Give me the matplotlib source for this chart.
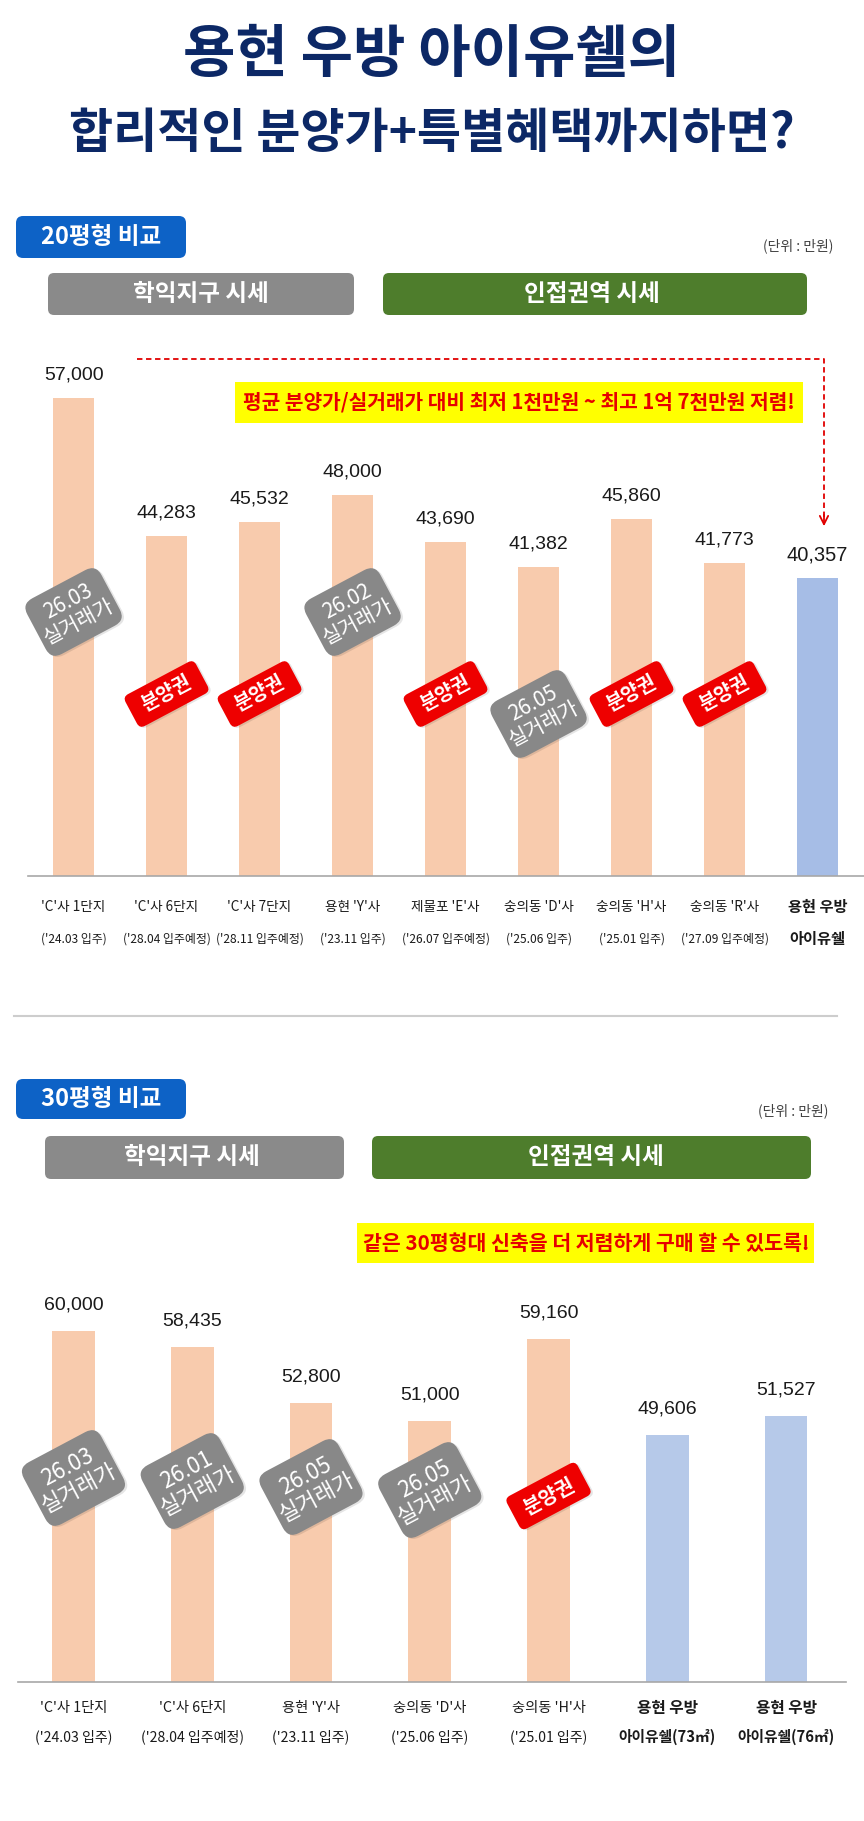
import matplotlib
matplotlib.use('Agg')
import matplotlib.pyplot as plt
from matplotlib.patches import FancyBboxPatch
from matplotlib.transforms import Affine2D

plt.rcParams['font.family'] = ['Noto Sans CJK KR', 'DejaVu Sans']

W, H = 864, 1821
NUM_FONT = ['Liberation Sans', 'DejaVu Sans']

# ---------------- data ----------------
title_lines = ["용현 우방 아이유쉘의", "합리적인 분양가+특별혜택까지하면?"]

c20_header = "20평형 비교"
c20_names = ["'C'사 1단지", "'C'사 6단지", "'C'사 7단지", "용현 'Y'사", "제물포 'E'사",
             "숭의동 'D'사", "숭의동 'H'사", "숭의동 'R'사", "용현 우방"]
c20_sub = ["('24.03 입주)", "('28.04 입주예정)", "('28.11 입주예정)", "('23.11 입주)",
           "('26.07 입주예정)", "('25.06 입주)", "('25.01 입주)", "('27.09 입주예정)", "아이유쉘"]
c20_values = [57000, 44283, 45532, 48000, 43690, 41382, 45860, 41773, 40357]
c20_tags = ["26.03\n실거래가", "분양권", "분양권", "26.02\n실거래가", "분양권",
            "26.05\n실거래가", "분양권", "분양권", None]
c20_note = "평균 분양가/실거래가 대비 최저 1천만원 ~ 최고 1억 7천만원 저렴!"

c30_header = "30평형 비교"
c30_names = ["'C'사 1단지", "'C'사 6단지", "용현 'Y'사", "숭의동 'D'사", "숭의동 'H'사",
             "용현 우방", "용현 우방"]
c30_sub = ["('24.03 입주)", "('28.04 입주예정)", "('23.11 입주)", "('25.06 입주)",
           "('25.01 입주)", "아이유쉘(73㎡)", "아이유쉘(76㎡)"]
c30_values = [60000, 58435, 52800, 51000, 59160, 49606, 51527]
c30_tags = ["26.03\n실거래가", "26.01\n실거래가", "26.05\n실거래가", "26.05\n실거래가",
            "분양권", None, None]
c30_note = "같은 30평형대 신축을 더 저렴하게 구매 할 수 있도록!"

group_labels = ["학익지구 시세", "인접권역 시세"]
unit_label = "(단위 : 만원)"

# ---------------- styles ----------------
ORANGE = '#f8cbad'
BLUE1 = '#a6bde6'
BLUE2 = '#b6c9e9'
NAVY = '#0c2866'
GRAY_BADGE = '#888888'
RED_BADGE = '#ee0000'

fig = plt.figure(figsize=(W / 100, H / 100), dpi=100)
fig.patch.set_facecolor('white')


def px_axes(left, top, right, bottom):
    return fig.add_axes([left / W, (H - bottom) / H, (right - left) / W, (bottom - top) / H])


ax1 = px_axes(28, 340, 864, 876)
ax2 = px_axes(18, 1290, 846, 1682)
ovl = fig.add_axes([0, 0, 1, 1], zorder=5)
ovl.set_xlim(0, W)
ovl.set_ylim(0, H)
ovl.axis('off')


def Y(y):
    return H - y


def style_axes(ax):
    for s in ['top', 'right', 'left']:
        ax.spines[s].set_visible(False)
    ax.spines['bottom'].set_color('#a8a8a8')
    ax.spines['bottom'].set_linewidth(1.2)
    ax.set_xticks([])
    ax.set_yticks([])
    ax.patch.set_alpha(0)


# ---------------- chart 1 ----------------
x1 = list(range(len(c20_values)))
colors1 = [ORANGE] * (len(c20_values) - 1) + [BLUE1]
ax1.bar(x1, c20_values, width=0.45, color=colors1)
ax1.set_xlim(-0.49, 8.5)
ax1.set_ylim(12700, 62420)
style_axes(ax1)
for i, v in enumerate(c20_values):
    last = i == len(c20_values) - 1
    ax1.annotate(f"{v:,}", xy=(i, v), xytext=(0, 23), textcoords='offset pixels',
                 ha='center', va='center', fontsize=14.5 if last else 14, color='#1a1a1a',
                 family=NUM_FONT)
    ax1.annotate(c20_names[i], xy=(i, 0), xycoords=('data', 'axes fraction'),
                 xytext=(0, -31), textcoords='offset pixels', ha='center', va='center',
                 fontsize=11 if last else 9.8, fontweight='bold' if last else 'normal',
                 color='#1a1a1a')
    ax1.annotate(c20_sub[i], xy=(i, 0), xycoords=('data', 'axes fraction'),
                 xytext=(0, -63), textcoords='offset pixels', ha='center', va='center',
                 fontsize=11 if last else 8.6, fontweight='bold' if last else 'normal',
                 color='#1a1a1a')

# ---------------- chart 2 ----------------
x2 = list(range(len(c30_values)))
colors2 = [ORANGE] * 5 + [BLUE2] * 2
ax2.bar(x2, c30_values, width=0.36, color=colors2)
ax2.set_xlim(-0.467, 6.505)
ax2.set_ylim(24900, 64100)
style_axes(ax2)
for i, v in enumerate(c30_values):
    last = i >= 5
    ax2.annotate(f"{v:,}", xy=(i, v), xytext=(0, 26), textcoords='offset pixels',
                 ha='center', va='center', fontsize=14, color='#1a1a1a', family=NUM_FONT)
    ax2.annotate(c30_names[i], xy=(i, 0), xycoords=('data', 'axes fraction'),
                 xytext=(0, -26), textcoords='offset pixels', ha='center', va='center',
                 fontsize=11.3 if last else 10.3, fontweight='bold' if last else 'normal',
                 color='#1a1a1a')
    ax2.annotate(c30_sub[i], xy=(i, 0), xycoords=('data', 'axes fraction'),
                 xytext=(0, -55), textcoords='offset pixels', ha='center', va='center',
                 fontsize=10.6 if last else 10.1, fontweight='bold' if last else 'normal',
                 color='#1a1a1a')

# ---------------- decorations ----------------
def box(x0, y0, x1_, y1_, color, r=6):
    ovl.add_patch(FancyBboxPatch((x0, Y(y1_)), x1_ - x0, y1_ - y0,
                                 boxstyle=f"round,pad=0,rounding_size={r}",
                                 fc=color, ec='none'))


def badge(cx, cy, w, h, r, color, text, fs, angle=28):
    tr = Affine2D().rotate_deg_around(cx, cy, angle) + ovl.transData
    ovl.add_patch(FancyBboxPatch((cx - w / 2 + 1.5, cy - h / 2 - 2), w, h,
                                 boxstyle=f"round,pad=0,rounding_size={r}",
                                 fc='#000000', alpha=0.10, ec='none', transform=tr))
    ovl.add_patch(FancyBboxPatch((cx - w / 2, cy - h / 2), w, h,
                                 boxstyle=f"round,pad=0,rounding_size={r}",
                                 fc=color, ec='none', transform=tr))
    ovl.text(cx, cy, text, rotation=angle, rotation_mode='anchor', ha='center',
             va='center', color='white', fontsize=fs, linespacing=1.05,
             fontweight='bold' if '\n' not in text else 'normal')


def bar_px(ax, i):
    return ax.transData.transform((i, 0))[0]


# titles
ovl.text(W / 2, Y(55), title_lines[0], ha='center', va='center', fontsize=41,
         fontweight='bold', color=NAVY)
ovl.text(W / 2, Y(134), title_lines[1], ha='center', va='center', fontsize=34.5,
         fontweight='bold', color=NAVY)

# section 1 header
box(16, 216, 186, 258, '#0d62c6', r=7)
ovl.text(101, Y(237), c20_header, ha='center', va='center', fontsize=17,
         color='white', fontweight='bold')
ovl.text(798, Y(246), unit_label, ha='center', va='center', fontsize=10, color='#404040')
box(48, 273, 354, 315, '#8a8a8a', r=6)
ovl.text(201, Y(294), group_labels[0], ha='center', va='center', fontsize=17,
         color='white', fontweight='bold')
box(383, 273, 807, 315, '#4e7d2c', r=6)
ovl.text(592, Y(294), group_labels[1], ha='center', va='center', fontsize=17,
         color='white', fontweight='bold')

# note 1 with dashed arrow
ovl.add_patch(FancyBboxPatch((235, Y(423)), 568, 41, boxstyle="square,pad=0",
                             fc='#ffff00', ec='none'))
ovl.text(519, Y(402), c20_note, ha='center', va='center', fontsize=14.6,
         fontweight='bold', color='#e60000')
ovl.plot([137, 824, 824], [Y(359), Y(359), Y(520)], color='#e00000', lw=1.3,
         ls=(0, (3, 2)))
ovl.annotate('', xy=(824, Y(529)), xytext=(824, Y(512)),
             arrowprops=dict(arrowstyle='->,head_length=0.6,head_width=0.3',
                             color='#e00000', lw=1.3))

# badges chart 1
fig.canvas.draw()
c20_badge_y = [612, 694, 694, 612, 694, 714, 694, 694, None]
for i, tag in enumerate(c20_tags):
    if tag is None:
        continue
    cx = bar_px(ax1, i)
    if '\n' in tag:
        badge(cx, Y(c20_badge_y[i]), 84, 63, 12, GRAY_BADGE, tag, 15)
    else:
        badge(cx, Y(c20_badge_y[i]), 80, 36, 6, RED_BADGE, tag, 14)

# separator
ovl.plot([14, 837], [Y(1016), Y(1016)], color='#cdcdcd', lw=1.5)

# section 2 header
box(16, 1079, 186, 1119, '#0d62c6', r=7)
ovl.text(101, Y(1099), c30_header, ha='center', va='center', fontsize=17,
         color='white', fontweight='bold')
ovl.text(793, Y(1111), unit_label, ha='center', va='center', fontsize=10, color='#404040')
box(45, 1136, 344, 1179, '#8a8a8a', r=6)
ovl.text(192, Y(1157), group_labels[0], ha='center', va='center', fontsize=17,
         color='white', fontweight='bold')
box(372, 1136, 811, 1179, '#4e7d2c', r=6)
ovl.text(596, Y(1157), group_labels[1], ha='center', va='center', fontsize=17,
         color='white', fontweight='bold')

ovl.add_patch(FancyBboxPatch((357, Y(1263)), 457, 40, boxstyle="square,pad=0",
                             fc='#ffff00', ec='none'))
ovl.text(586, Y(1243), c30_note, ha='center', va='center', fontsize=14.8,
         fontweight='bold', color='#e60000')

c30_badge_y = [1478, 1481, 1487, 1490, 1496, None, None]
for i, tag in enumerate(c30_tags):
    if tag is None:
        continue
    cx = bar_px(ax2, i)
    if '\n' in tag:
        badge(cx, Y(c30_badge_y[i]), 88, 70, 12, GRAY_BADGE, tag, 16)
    else:
        badge(cx, Y(c30_badge_y[i]), 80, 37, 6, RED_BADGE, tag, 14.5)

fig.savefig('out.png', dpi=100, facecolor='white')
